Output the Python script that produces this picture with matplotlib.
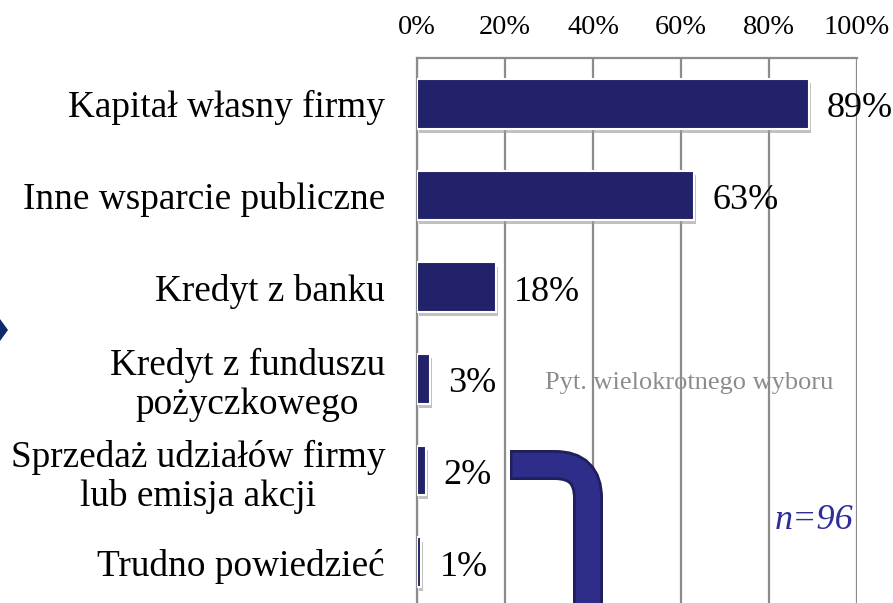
import matplotlib
matplotlib.use("Agg")
import matplotlib.pyplot as plt
import matplotlib.patheffects as pe
from matplotlib.path import Path
from matplotlib.patches import PathPatch, Polygon
from matplotlib.transforms import Affine2D

categories = [
    "Kapitał własny firmy",
    "Inne wsparcie publiczne",
    "Kredyt z banku",
    "Kredyt z funduszu\npożyczkowego",
    "Sprzedaż udziałów firmy\nlub emisja akcji",
    "Trudno powiedzieć",
]
values = [89, 63, 18, 3, 2, 1]
xticks = [0, 20, 40, 60, 80, 100]
xtick_labels = ["0%", "20%", "40%", "60%", "80%", "100%"]

W, H = 893, 603
fig = plt.figure(figsize=(W / 100, H / 100), dpi=100)
plt.rcParams['font.family'] = ['Liberation Serif', 'DejaVu Serif']

ax = fig.add_axes([417 / W, -5 / H, 440 / W, (603 - 58 + 5) / H])
ax.set_xlim(0, 100)
n = len(categories)
ax.set_ylim(n - 0.5, -0.5)

grid_col = "#8C8C8C"
for x in xticks:
    ax.axvline(x, color=grid_col, lw=1.6, zorder=0)

bar_col = "#22226A"
ypos = list(range(n))
bars = ax.barh(ypos, values, height=0.54, color=bar_col, edgecolor="white",
               linewidth=1.5, zorder=3)
for b in bars:
    b.set_path_effects([pe.SimplePatchShadow(offset=(1.5, -3), shadow_rgbFace="#999999", alpha=0.6),
                        pe.Normal()])

for y, v in zip(ypos, values):
    ax.annotate(f"{v}%", xy=(v, y), xytext=(13, -3.5), textcoords="offset points",
                va="center", ha="left", fontsize=26, color="black", zorder=5)

ax.set_yticks(ypos)
ax.set_yticklabels(categories, fontsize=26.8, multialignment="center", linespacing=1.15)
ax.tick_params(axis="y", length=0, pad=23)
ax.xaxis.tick_top()
ax.set_xticks(xticks)
ax.set_xticklabels(xtick_labels, fontsize=20.3)
ax.tick_params(axis="x", length=0, pad=13)

for s in ["bottom", "right"]:
    ax.spines[s].set_visible(False)
for s in ["top", "left"]:
    ax.spines[s].set_color(grid_col)
    ax.spines[s].set_linewidth(1.6)

ax.text(0.618, 3.05, "Pyt. wielokrotnego wyboru", transform=ax.get_yaxis_transform(),
        ha="center", va="center", fontsize=19, color="#8C8C8C", zorder=6)
ax.text(0.902, 4.55, "n=96", transform=ax.get_yaxis_transform(), ha="center", va="center",
        fontsize=26, style="italic", color="#2E2E9A", zorder=6)

# decorative pixel transform (top-left origin)
pix = Affine2D().scale(1 / W, -1 / H).translate(0, 1) + fig.transFigure

codes = [Path.MOVETO, Path.LINETO, Path.CURVE3, Path.CURVE3, Path.LINETO]
outer = Path([(510, 465), (555, 465), (588, 465), (588, 498), (588, 620)], codes)
inner = Path([(512.5, 465), (555, 465), (588, 465), (588, 498), (588, 620)], codes)
fig.patches.append(PathPatch(outer, transform=pix, fill=False, edgecolor="#1F1F5E",
                             lw=21.6, capstyle="butt", joinstyle="miter"))
fig.patches.append(PathPatch(inner, transform=pix, fill=False, edgecolor="#2E2E8A",
                             lw=17.5, capstyle="butt", joinstyle="miter"))

fig.patches.append(Polygon([(0, 319), (8, 330), (0, 341)], closed=True, transform=pix,
                           facecolor="#0E2A6E", edgecolor="none"))

fig.savefig("out.png", dpi=100)
